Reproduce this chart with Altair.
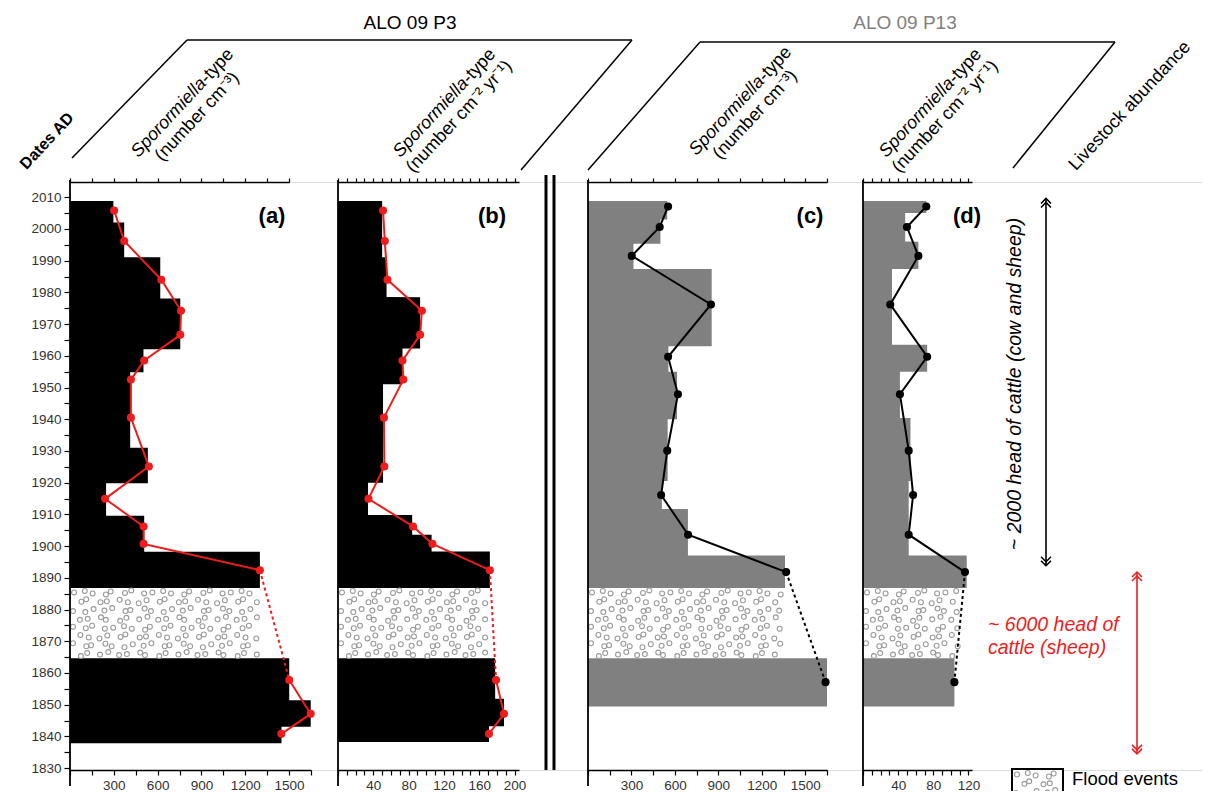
import altair as alt
import pandas as pd

FONT = "Liberation Sans"
RED = "#ee1c1c"
GRAY = "#808080"

# ---------------- data ----------------
# ALO 09 P3 samples (dates AD) and values
p3_years = [2005.8, 1996.2, 1984.0, 1974.2, 1966.6, 1958.5, 1952.5, 1940.5,
            1925.1, 1914.9, 1906.2, 1900.7, 1892.4, 1857.8, 1847.1, 1840.8]
p3_conc = [302, 371, 625, 760, 755, 508, 417, 417, 540, 240, 504, 504, 1300, 1501, 1648, 1447]
p3_flux = [51, 53, 56, 95, 93, 73, 74, 52, 52.5, 34.5, 85, 107, 172, 179, 188, 171]
p3_part = [0] * 13 + [1] * 3

# step bars: top year, bottom year, value
a_top = [2008.8, 2002.0, 1991.1, 1978.1, 1962.1, 1954.8, 1931.0, 1919.8, 1909.6, 1898.2, 1864.6, 1851.4, 1843.0]
a_bot = [2002.0, 1991.1, 1978.1, 1962.1, 1954.8, 1931.0, 1919.8, 1909.6, 1898.2, 1886.8, 1851.4, 1843.0, 1837.8]
a_val = [297, 371, 618, 755, 503, 412, 533, 247, 508, 1300, 1501, 1648, 1448]

b_top = [2008.8, 1991.1, 1978.5, 1962.3, 1951.0, 1920.0, 1909.8, 1903.6, 1898.3, 1864.6, 1851.9, 1843.2]
b_bot = [1991.1, 1978.5, 1962.3, 1951.0, 1920.0, 1909.8, 1903.6, 1898.3, 1886.8, 1851.9, 1843.2, 1838.2]
b_val = [50, 55, 93, 73, 51, 34, 84, 106, 172, 178, 188, 171]

# ALO 09 P13
p13_years = [2007.1, 2000.6, 1991.5, 1976.2, 1959.7, 1947.9, 1930.1, 1916.1, 1903.6, 1891.8, 1857.1]
p13_conc = [553, 495, 302, 849, 553, 621, 547, 505, 691, 1368, 1640]
p13_flux = [72, 50, 63, 31, 73, 42, 52, 57, 52, 116, 104]
p13_part = [0] * 10 + [1]

c_top = [2008.8, 2003.0, 1995.3, 1987.4, 1963.0, 1955.0, 1940.0, 1920.5, 1911.7, 1897.0, 1864.6]
c_bot = [2003.0, 1995.3, 1987.4, 1963.0, 1955.0, 1940.0, 1920.5, 1911.7, 1897.0, 1886.8, 1849.4]
c_val = [547, 500, 314, 854, 555, 615, 550, 510, 690, 1360, 1650]

d_top = [2008.8, 2005.0, 1996.0, 1987.4, 1963.5, 1955.0, 1940.4, 1920.5, 1897.0, 1864.6]
d_bot = [2005.0, 1996.0, 1987.4, 1963.5, 1955.0, 1940.4, 1920.5, 1897.0, 1886.8, 1849.4]
d_val = [72, 48, 63, 33, 73, 42, 54, 52, 118, 104]

flood_top, flood_bot = 1886.8, 1864.6
flood_ext = {"a": 1300, "b": 170, "c": 1360, "d": 112}

year_ticks = list(range(1830, 2011, 5))

# livestock periods (dates AD)
cattle_2000 = [2009.6, 1893.8]
cattle_6000 = [1891.8, 1834.5]

# ---------------- layout ----------------
H = 588
Y_DOM = [1829.4, 2014.8]
PPY = H / (Y_DOM[1] - Y_DOM[0])

YS = alt.Scale(domain=Y_DOM, nice=False, zero=False)
YAX = alt.Axis(values=year_ticks, labelExpr="datum.value % 10 == 0 ? datum.label : ''",
               format="d", domain=False, grid=False, tickSize=6, tickColor="black",
               tickWidth=1.2, labelFontSize=13.5, labelColor="#333", labelFont=FONT,
               labelPadding=3, title="")


def Y(f):
    return alt.Y(f, type="quantitative", scale=YS, axis=YAX)


def one():
    return pd.DataFrame({"z": [0]})


def txt(x, y, s, size=17, angle=0, align="center", baseline="middle", style="normal",
        weight="normal", color="black", dx=0, dy=0):
    return alt.Chart(one()).mark_text(
        text=s, fontSize=size, angle=angle, align=align, baseline=baseline,
        fontStyle=style, fontWeight=weight, color=color, font=FONT, dx=dx, dy=dy
    ).encode(x=alt.value(x), y=alt.value(y))


def seg(x1, y1, x2, y2, w=1.5, color="black"):
    return alt.Chart(one()).mark_rule(strokeWidth=w, color=color).encode(
        x=alt.value(x1), y=alt.value(y1), x2=alt.value(x2), y2=alt.value(y2))


def flood_pixels(width_px, height_px):
    JX = [0, 2.5, -1.5, 1, -2.5, 1.5, -1, 2]
    JY = [0, -1.5, 1, 2, -1, 0.5, -2, 1]
    out = []
    r = 0
    yy = 4.5
    while yy < height_px - 3:
        xx = 4 + (4.9 if r % 2 else 0)
        c = 0
        while xx < width_px - 3:
            px = min(max(xx + JX[(c * 3 + r) % 8], 3), width_px - 3)
            out.append((px, yy + JY[(c + r * 5) % 8]))
            xx += 9.8
            c += 1
        yy += 8.8
        r += 1
    return out


def step_table(top, bot, val):
    rows = []
    for t, b, v in zip(top, bot, val):
        g = 0 if b >= flood_top - 1e-6 else 1
        rows.append({"yr": t, "v": v, "lo": 0, "g": g})
        rows.append({"yr": b + 0.003, "v": v, "lo": 0, "g": g})
    return pd.DataFrame(rows)


def panel(dom, rng, top, bot, val, years, vals, parts, split, bar_color, line_color,
          flood_x, tick_step, label_step, tag, tag_x, top_max=None):
    xs = alt.Scale(domain=dom, range=rng, nice=False, zero=False)
    ticks = list(range(0, int(dom[1]) + 1, tick_step))
    common = dict(grid=False, domainColor="black", domainWidth=1.5,
                  tickColor="black", tickWidth=1.2, title="")
    ax = alt.Axis(orient="bottom", tickSize=5, format="d", values=ticks,
                  labelExpr=f"datum.value % {label_step} == 0 && datum.value > 0 ? datum.label : ''",
                  labelFontSize=13.5, labelColor="#333", labelFont=FONT, labelPadding=3,
                  labelFlush=False, labelOverlap=False, **common)

    def X(f):
        return alt.X(f, type="quantitative", scale=xs, axis=ax)

    bars = alt.Chart(step_table(top, bot, val)).mark_area(
        orient="horizontal", color=bar_color, opacity=1, interpolate="linear").encode(
        x=X("v"), x2=alt.X2("lo"), y=Y("yr"), detail="g:N")

    ppu = (rng[1] - rng[0]) / (dom[1] - dom[0])
    fp = flood_pixels(flood_x * ppu, (flood_top - flood_bot) * PPY)
    fdf = pd.DataFrame({"fx": [p[0] / ppu for p in fp], "fy": [flood_top - p[1] / PPY for p in fp]})
    flood = alt.Chart(fdf).mark_point(shape="circle", filled=False, color="#9a9a9a", size=24,
                                      strokeWidth=1.1, opacity=1).encode(x=X("fx"), y=Y("fy"))

    left = alt.Chart(one()).mark_rule(strokeWidth=1.8, color="black").encode(
        x=X("z"), y=alt.value(-2), y2=alt.value(604))

    pts = pd.DataFrame({"yr": years, "v": vals, "i": list(range(len(years))), "part": parts})
    line = alt.Chart(pts).mark_line(color=line_color, strokeWidth=2).encode(
        x=X("v"), y=Y("yr"), order=alt.Order("i:Q"), detail="part:N")
    dash = alt.Chart(pts.iloc[split:split + 2]).mark_line(
        color=line_color, strokeWidth=2, strokeDash=[3, 3]).encode(
        x=X("v"), y=Y("yr"), order=alt.Order("i:Q"))
    dots = alt.Chart(pts).mark_circle(size=65, opacity=1, color=line_color).encode(
        x=X("v"), y=Y("yr"))
    label = txt(tag_x, 34, tag, size=22, weight="bold")

    # top axis (may stop short of the bottom one, as in panel a)
    tmax = top_max if top_max is not None else dom[1]
    trng = [rng[0], rng[0] + (rng[1] - rng[0]) * (tmax - dom[0]) / (dom[1] - dom[0])]
    tax = alt.Axis(orient="top", tickSize=4, labels=False,
                   values=[t for t in ticks if t <= tmax], **common)
    topaxis = alt.Chart(one()).mark_point(opacity=0).encode(
        x=alt.X("z", type="quantitative",
                scale=alt.Scale(domain=[dom[0], tmax], range=trng, nice=False, zero=False),
                axis=tax))
    return [alt.layer(bars, flood, left, line, dash, dots, label), topaxis]


layers = []
layers += panel([0, 1650], [0, 241], a_top, a_bot, a_val, p3_years, p3_conc, p3_part, 12,
                "black", RED, flood_ext["a"], 150, 300, "(a)", 202, top_max=1500)
layers += panel([0, 205], [268, 449], b_top, b_bot, b_val, p3_years, p3_flux, p3_part, 12,
                "black", RED, flood_ext["b"], 10, 40, "(b)", 422)
layers += panel([0, 1650], [518, 757], c_top, c_bot, c_val, p13_years, p13_conc, p13_part, 9,
                GRAY, "black", flood_ext["c"], 150, 300, "(c)", 740)
layers += panel([0, 124], [793, 902], d_top, d_bot, d_val, p13_years, p13_flux, p13_part, 9,
                GRAY, "black", flood_ext["d"], 10, 40, "(d)", 897)

# ---- separator between cores ----
for xv in (476, 484):
    layers.append(alt.Chart(one()).mark_rule(strokeWidth=3, color="black").encode(
        x=alt.value(xv), y=alt.value(-7), y2=alt.value(H)))

# ---- header ----
layers += [seg(2, -24, 117, -142), seg(117, -142, 562, -142), seg(562, -142, 451, -12),
           seg(518, -12, 630, -140), seg(630, -140, 1045, -140), seg(1045, -140, 943, -14)]
layers.append(txt(340, -159, "ALO 09 P3", size=19))
layers.append(txt(835, -159, "ALO 09 P13", size=19, color=GRAY))
ANG = 313
layers.append(txt(-23, -41, "Dates AD", size=16, angle=ANG, weight="bold"))


def sporo(cx, cy, line2, size=18):
    w1 = 5.612 * size
    w2 = 2.223 * size
    dj = (w1 - w2) / 2
    return [
        txt(cx, cy, "Sporormiella", size=size, angle=ANG, align="right", style="italic", dx=dj, dy=-10),
        txt(cx, cy, "-type", size=size, angle=ANG, align="left", dx=dj, dy=-10),
        txt(cx, cy, line2, size=size, angle=ANG, dy=10),
    ]


layers += sporo(120, -72, "(number cm\u207b\u00b3)")
layers += sporo(382, -72, "(number cm\u207b\u00b2 yr\u207b\u00b9)")
layers += sporo(678, -74, "(number cm\u207b\u00b3)")
layers += sporo(868, -72, "(number cm\u207b\u00b2 yr\u207b\u00b9)")
layers.append(txt(1060, -76, "Livestock abundance", size=18, angle=ANG))

# ---- livestock arrows ----
UP = "M-1,0.1 L0,-0.9 L1,0.1 M-1,0.9 L0,-0.1 L1,0.9"
DOWN = "M-1,-0.1 L0,0.9 L1,-0.1 M-1,-0.9 L0,0.1 L1,-0.9"


def arrow(xp, span, color):
    y_hi, y_lo = span
    df = pd.DataFrame({"y0": [y_hi], "y1": [y_lo]})
    shaft = alt.Chart(df).mark_rule(strokeWidth=1.6, color=color).encode(
        x=alt.value(xp), y=Y("y0"), y2=alt.Y2("y1"))
    up = alt.Chart(pd.DataFrame({"yr": [y_hi - 1.4]})).mark_point(
        shape=UP, filled=False, size=100, strokeWidth=1.5, color=color, opacity=1).encode(
        x=alt.value(xp), y=Y("yr"))
    dn = alt.Chart(pd.DataFrame({"yr": [y_lo + 1.4]})).mark_point(
        shape=DOWN, filled=False, size=100, strokeWidth=1.5, color=color, opacity=1).encode(
        x=alt.value(xp), y=Y("yr"))
    return [shaft, up, dn]


layers += arrow(976, cattle_2000, "black")
layers += arrow(1067, cattle_6000, RED)
layers.append(txt(945, 202, "~ 2000 head of cattle (cow and sheep)", size=19.5, angle=270, style="italic"))
layers.append(txt(918, 443, "~ 6000 head of", size=19.5, align="left", style="italic", color=RED))
layers.append(txt(918, 466, "cattle (sheep)", size=19.5, align="left", style="italic", color=RED))

# ---- legend ----
layers.append(alt.Chart(one()).mark_rect(fill="white", stroke="black", strokeWidth=2).encode(
    x=alt.value(942), x2=alt.value(993), y=alt.value(587), y2=alt.value(618)))
lp = flood_pixels(49, 29)
ldf = pd.DataFrame({"lx": [943 + p[0] for p in lp], "ly": [Y_DOM[1] - (588 + p[1]) / PPY for p in lp]})
layers.append(alt.Chart(ldf).mark_point(shape="circle", filled=False, color="#9a9a9a", size=24,
                                        strokeWidth=1.1, opacity=1).encode(
    x=alt.X("lx", type="quantitative", scale=alt.Scale(domain=[0, 1132], range=[0, 1132]), axis=None),
    y=Y("ly")))
layers.append(txt(1002, 597, "Flood events", size=18.5, align="left"))

chart = alt.layer(*layers).resolve_scale(x="independent").resolve_axis(x="independent").properties(
    width=1132, height=H,
    autosize=alt.AutoSizeParams(type="none"),
    padding={"left": 62, "top": 174, "right": 0, "bottom": 21},
).configure_view(stroke="transparent", strokeWidth=0).configure(background="white")

chart.save("out.html", embed_options={"renderer": "svg", "actions": False})
